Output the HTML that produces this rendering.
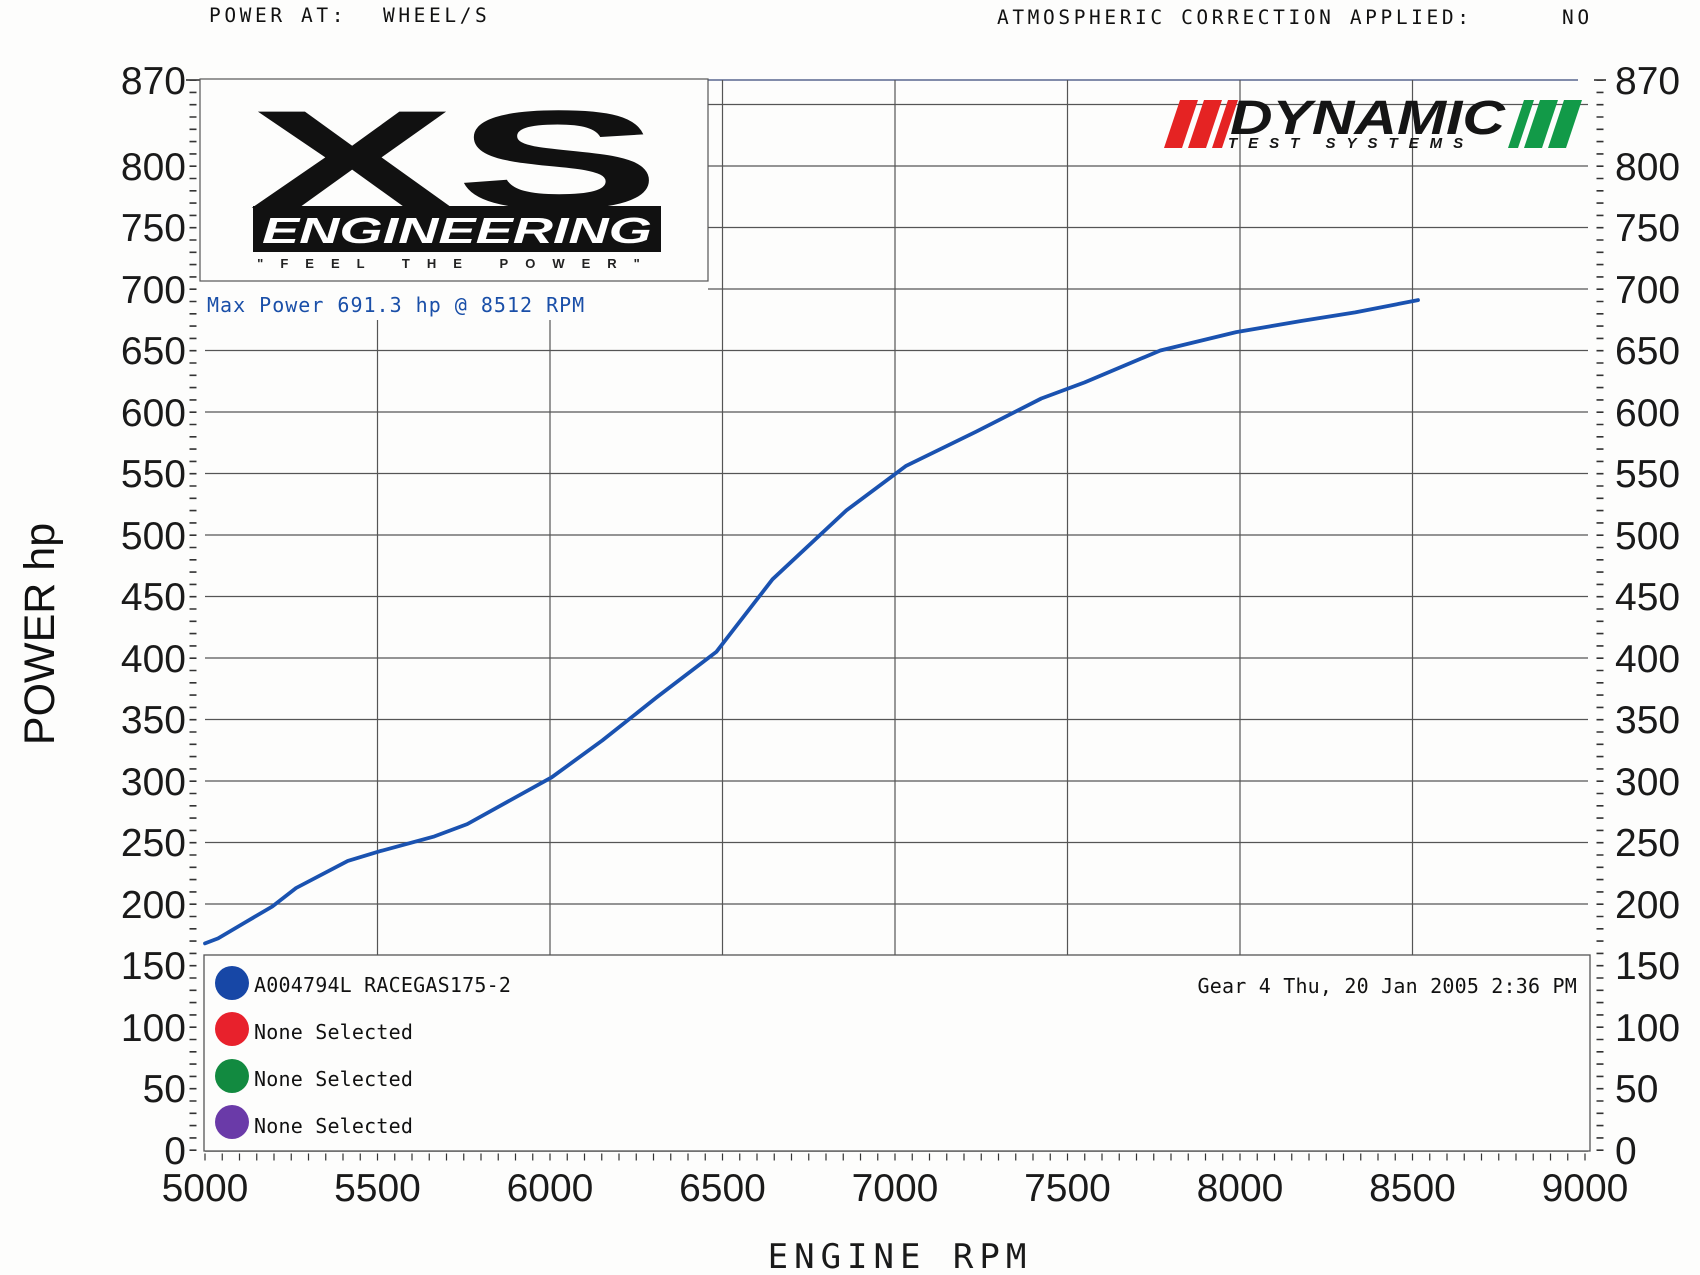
<!DOCTYPE html>
<html><head><meta charset="utf-8"><style>
html,body{margin:0;padding:0;background:#fdfdfc;}
svg{display:block;}
.m{font-family:"DejaVu Sans Mono","Liberation Mono",monospace;}
.n{font-family:"Liberation Sans",Arial,sans-serif;font-size:39px;fill:#1a1a1a;}
</style></head><body>
<svg width="1700" height="1275" viewBox="0 0 1700 1275" xmlns="http://www.w3.org/2000/svg">
<rect width="1700" height="1275" fill="#fdfdfc"/>
<!-- header -->
<text x="209" y="22" class="m" font-size="19.5" letter-spacing="3.6" fill="#111">POWER AT:</text>
<text x="383" y="22" class="m" font-size="19.5" letter-spacing="3.6" fill="#111">WHEEL/S</text>
<text x="997" y="24" class="m" font-size="19.5" letter-spacing="3.6" fill="#111">ATMOSPHERIC CORRECTION APPLIED:</text>
<text x="1562" y="24" class="m" font-size="19.5" letter-spacing="3.6" fill="#111">NO</text>

<!-- horizontal grid -->
<g stroke="#555" stroke-width="1.2">
<line x1="708" y1="80" x2="1578" y2="80" stroke="#3a4a7a"/>
<line x1="708" y1="104.5" x2="1588" y2="104.5"/>
<line x1="708" y1="166" x2="1588" y2="166"/>
<line x1="708" y1="227.5" x2="1588" y2="227.5"/>
<line x1="708" y1="289" x2="1588" y2="289"/>
<line x1="205" y1="350.5" x2="1588" y2="350.5"/>
<line x1="205" y1="412" x2="1588" y2="412"/>
<line x1="205" y1="473.5" x2="1588" y2="473.5"/>
<line x1="205" y1="535" x2="1588" y2="535"/>
<line x1="205" y1="596.5" x2="1588" y2="596.5"/>
<line x1="205" y1="658" x2="1588" y2="658"/>
<line x1="205" y1="719.5" x2="1588" y2="719.5"/>
<line x1="205" y1="781" x2="1588" y2="781"/>
<line x1="205" y1="842.5" x2="1588" y2="842.5"/>
<line x1="205" y1="904" x2="1588" y2="904"/>
<!-- vertical grid -->
<line x1="377.5" y1="320" x2="377.5" y2="955"/>
<line x1="550" y1="320" x2="550" y2="955"/>
<line x1="722.5" y1="80" x2="722.5" y2="955"/>
<line x1="895" y1="80" x2="895" y2="955"/>
<line x1="1067.5" y1="80" x2="1067.5" y2="955"/>
<line x1="1240" y1="80" x2="1240" y2="955"/>
<line x1="1412.5" y1="80" x2="1412.5" y2="955"/>
</g>

<!-- left & right ticks -->
<line x1="193" y1="1151" x2="193" y2="80" stroke="#333" stroke-width="7" stroke-dasharray="1.6 10.7"/>
<line x1="1600" y1="1151" x2="1600" y2="80" stroke="#333" stroke-width="7" stroke-dasharray="1.6 10.7"/>
<g stroke="#333" stroke-width="1.6">
<line x1="186" y1="80" x2="200" y2="80"/><line x1="1594" y1="80" x2="1606" y2="80"/>
</g>
<!-- bottom ticks -->
<line x1="205" y1="1151" x2="1588" y2="1151" stroke="#555" stroke-width="1.4"/>
<line x1="204.4" y1="1157" x2="1590" y2="1157" stroke="#333" stroke-width="7" stroke-dasharray="1.2 16.05"/>

<!-- left labels -->
<g class="n" text-anchor="end">
<text x="186" y="94">870</text>
<text x="186" y="180">800</text>
<text x="186" y="241">750</text>
<text x="186" y="303">700</text>
<text x="186" y="364">650</text>
<text x="186" y="426">600</text>
<text x="186" y="487">550</text>
<text x="186" y="549">500</text>
<text x="186" y="610">450</text>
<text x="186" y="672">400</text>
<text x="186" y="733">350</text>
<text x="186" y="795">300</text>
<text x="186" y="856">250</text>
<text x="186" y="918">200</text>
<text x="186" y="979">150</text>
<text x="186" y="1041">100</text>
<text x="186" y="1102">50</text>
<text x="186" y="1164">0</text>
</g>
<g class="n">
<text x="1615" y="94">870</text>
<text x="1615" y="180">800</text>
<text x="1615" y="241">750</text>
<text x="1615" y="303">700</text>
<text x="1615" y="364">650</text>
<text x="1615" y="426">600</text>
<text x="1615" y="487">550</text>
<text x="1615" y="549">500</text>
<text x="1615" y="610">450</text>
<text x="1615" y="672">400</text>
<text x="1615" y="733">350</text>
<text x="1615" y="795">300</text>
<text x="1615" y="856">250</text>
<text x="1615" y="918">200</text>
<text x="1615" y="979">150</text>
<text x="1615" y="1041">100</text>
<text x="1615" y="1102">50</text>
<text x="1615" y="1164">0</text>
</g>
<g class="n" text-anchor="middle">
<text x="205" y="1201">5000</text>
<text x="377.5" y="1201">5500</text>
<text x="550" y="1201">6000</text>
<text x="722.5" y="1201">6500</text>
<text x="895" y="1201">7000</text>
<text x="1067.5" y="1201">7500</text>
<text x="1240" y="1201">8000</text>
<text x="1412.5" y="1201">8500</text>
<text x="1585" y="1201">9000</text>
</g>
<text x="900" y="1268" class="m" font-size="34" letter-spacing="6" text-anchor="middle" fill="#1a1a1a">ENGINE RPM</text>
<text transform="translate(54,634) rotate(-90)" text-anchor="middle" font-family="Liberation Sans,sans-serif" font-size="43" fill="#111">POWER hp</text>

<!-- XS logo box -->
<rect x="200" y="79" width="508" height="202" fill="#fdfdfc" stroke="#555" stroke-width="1.2"/>
<text x="455" y="208" text-anchor="middle" font-family="Liberation Sans,sans-serif" font-weight="bold" font-size="140" fill="#111" textLength="412" lengthAdjust="spacingAndGlyphs">XS</text>
<rect x="253" y="206" width="408" height="46" fill="#111"/>
<text x="457" y="243" text-anchor="middle" font-family="Liberation Sans,sans-serif" font-weight="bold" font-style="italic" font-size="36" fill="#fff" textLength="390" lengthAdjust="spacingAndGlyphs">ENGINEERING</text>
<text x="457" y="268" text-anchor="middle" font-family="Liberation Sans,sans-serif" font-weight="bold" font-size="13" fill="#222" letter-spacing="17">"FEEL THE POWER"</text>
<text x="207" y="312" class="m" font-size="20" fill="#1a4fa8" letter-spacing="1">Max Power 691.3 hp @ 8512 RPM</text>

<!-- Dynamic logo -->
<g transform="translate(-12,0)">
<polygon points="1176,148 1192,100 1210,100 1194,148" fill="#e52323"/>
<polygon points="1200,148 1216,100 1234,100 1218,148" fill="#e52323"/>
<polygon points="1224,148 1240,100 1250,100 1234,148" fill="#e52323"/>
<polygon points="1520,148 1536,100 1546,100 1530,148" fill="#129a48"/>
<polygon points="1536,148 1552,100 1570,100 1554,148" fill="#129a48"/>
<polygon points="1560,148 1576,100 1594,100 1578,148" fill="#129a48"/>
<text x="1242" y="134" font-family="Liberation Sans,sans-serif" font-weight="bold" font-style="italic" font-size="48" fill="#151515" textLength="275" lengthAdjust="spacingAndGlyphs">DYNAMIC</text>
<text x="1240" y="148" font-family="Liberation Sans,sans-serif" font-weight="bold" font-style="italic" font-size="15" fill="#151515" letter-spacing="11">TEST SYSTEMS</text>
</g>

<!-- curve -->
<polyline fill="none" stroke="#1a52b0" stroke-width="3.8" stroke-linejoin="round" stroke-linecap="round" points="205,943.4 218.1,938.4 245,922.5 272.3,906.5 296.1,888 347.8,860.9 380.3,851.1 434.4,836.4 467.2,824.1 551.7,777.3 602.4,740.4 656.6,697.4 716.3,651.9 772.5,579.3 846.4,510.4 905.7,466.1 976.1,431.7 1041.3,398.5 1084.4,382.5 1160.3,350.5 1236.2,332.1 1301.1,321 1355.2,312.4 1418,300.1"/>

<!-- legend -->
<rect x="204" y="955" width="1386" height="196" fill="#fdfdfc" stroke="#555" stroke-width="1.3"/>
<circle cx="232" cy="983" r="17" fill="#1747a6"/>
<circle cx="232" cy="1029" r="17" fill="#e8212c"/>
<circle cx="232" cy="1076" r="17" fill="#128a40"/>
<circle cx="232" cy="1122" r="17" fill="#6a3aa8"/>
<g class="m" font-size="20" fill="#111" letter-spacing="0.2">
<text x="254" y="992">A004794L RACEGAS175-2</text>
<text x="254" y="1039">None Selected</text>
<text x="254" y="1086">None Selected</text>
<text x="254" y="1133">None Selected</text>
<text x="1577" y="993" text-anchor="end">Gear 4 Thu, 20 Jan 2005 2:36 PM</text>
</g>
</svg>
</body></html>
